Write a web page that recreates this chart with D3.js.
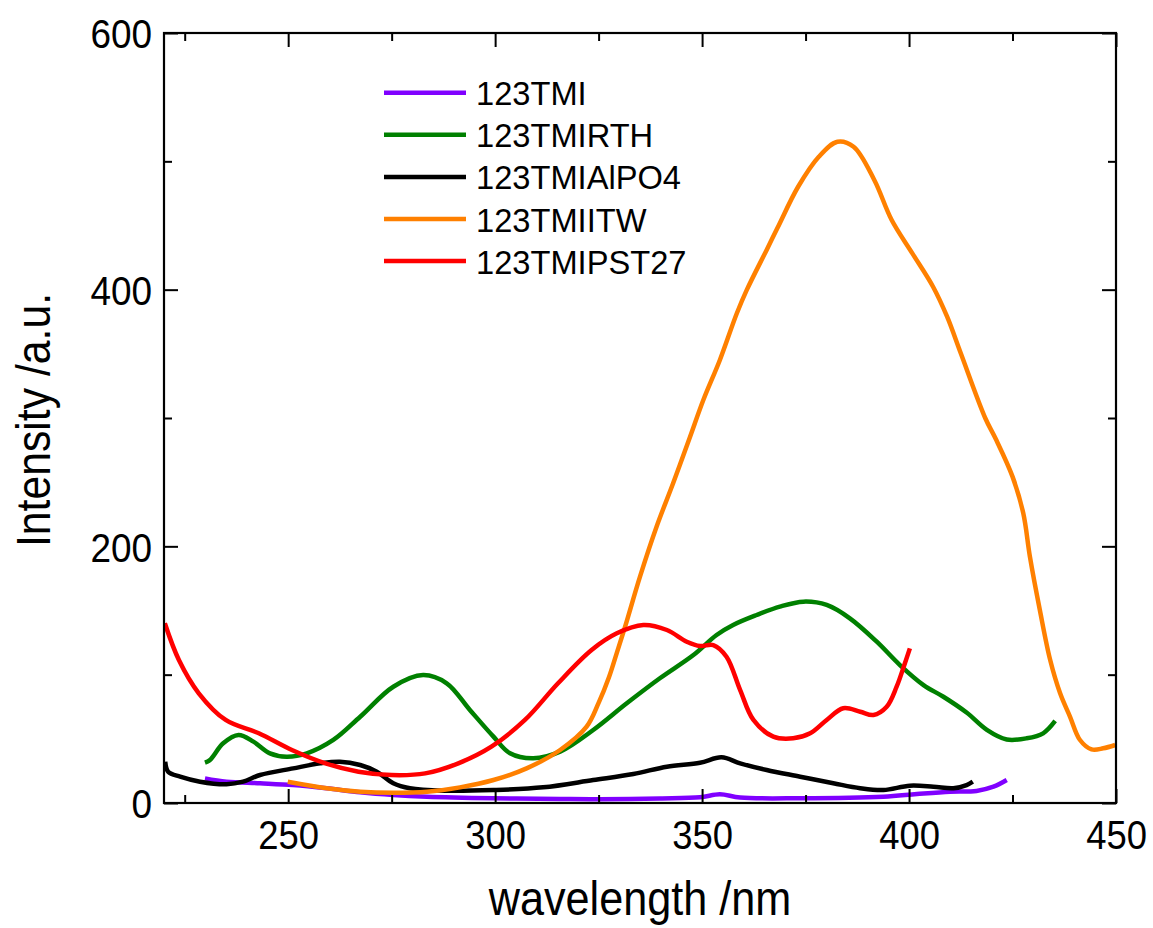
<!DOCTYPE html>
<html>
<head>
<meta charset="utf-8">
<script src="https://cdn.jsdelivr.net/npm/d3@7"></script>
<style>
  html, body { margin: 0; padding: 0; background: #fff; }
  svg { display: block; }
  text { font-family: "Liberation Sans", Arial, Helvetica, sans-serif; fill: #000; }
</style>
</head>
<body>
<svg id="chart" width="1153" height="928"></svg>
<script>
// Emission spectra: [wavelength (nm), intensity (a.u.)]
const seriesNames = ["123TMI", "123TMIRTH", "123TMIAlPO4", "123TMIITW", "123TMIPST27"];
const seriesColors = ["#8000ff", "#008000", "#000000", "#ff8000", "#ff0000"];

const tmi = [[229.9,19.2],[235.1,16.6],[243.2,15.4],[251.2,14],[259.3,11.5],[267.4,8.3],[275.4,6.2],[283.5,4.9],[299.6,3.7],[315.7,3.1],[325.3,2.9],[339.8,3.5],[349.5,4.4],[354.3,6.8],[359.2,4.2],[373.7,3.7],[393.8,4.9],[401.9,7],[409.9,8.8],[416.3,9.4],[420.4,12.7],[423.6,17.9]];

const tmiRTH = [[229.9,31.4],[231.1,33.5],[234.3,46.5],[238,53],[241.6,47.8],[245.6,38.7],[249.6,36.1],[254.5,38.7],[260.9,49.1],[267.4,67.2],[275.4,90.6],[282.6,99.7],[288.3,93.3],[293.9,72.5],[299.6,51.7],[303.6,38.7],[309.2,34.8],[315.7,40],[323.7,56.9],[331.8,77.7],[339.8,97.2],[347.9,115.3],[353.5,130.9],[357.5,138.7],[363.2,146.5],[368.8,153],[374.5,156.9],[380.1,154.3],[385.7,143.9],[392.2,125.7],[397.8,107.5],[403.5,91.9],[408.3,82.8],[413.9,70.5],[418.8,57],[423.6,49.5],[428.4,50.4],[432.4,54.3],[435.3,63.9]];

const tmiAlPO4 = [[220.3,32.2],[221,24.4],[223.9,20.5],[228.7,16.6],[235.1,14.6],[239.1,16.6],[243.2,21.8],[251.2,27],[257.7,30.9],[262.5,32.2],[267.4,29.6],[271.4,24.4],[275.4,15.4],[279.4,11.5],[287.5,9.6],[299.6,10.1],[311.6,12.2],[323.7,17.9],[333.4,22.6],[341.5,28.3],[349.5,31.4],[354.7,35.6],[359.2,30.9],[365.6,25.7],[373.7,20.5],[381.7,15.4],[388.2,11.5],[393.8,10.1],[400.2,13.5],[405.9,12.7],[410.7,11.5],[413.9,14],[415.4,16.6]];

const tmiITW = [[249.9,16.6],[259.3,11.5],[267.4,8.8],[275.4,8],[283.5,8.8],[291.5,12.2],[299.6,17.9],[307.6,27],[315.7,41.3],[322.1,59.5],[325,78],[327.5,98],[329.4,117],[331.4,137.4],[335,176.4],[339,215.3],[343,249.1],[347.1,285.4],[350.3,314],[354.3,345.2],[358.4,381.6],[360.8,399.8],[365.6,431],[368.2,448],[373.2,480.2],[378.2,503.6],[382.7,515.3],[386.6,511.4],[391.6,485.5],[395.8,454.3],[400.8,428.3],[405.8,402.3],[409.2,378.9],[412.5,350.4],[418.4,300],[420.9,284],[425,254.3],[427.6,225.7],[429.2,192],[431.6,150.4],[434.1,111.4],[436.5,85.5],[438.9,67.2],[441.3,49.1],[444.1,41.8],[446.9,42.6],[449.8,45.2]];

const tmiPST27 = [[220.2,140],[223.6,111.4],[228.4,85.5],[234.9,64.7],[242.9,54.3],[250.9,41.3],[259,30.9],[267,24.4],[275,21.8],[283.1,23.1],[291.1,30.9],[299.1,43.9],[307.2,64.7],[315.2,93.3],[323.3,119.2],[329.4,132.2],[335.8,138.7],[341.5,134.8],[346.3,125.7],[349.5,122.3],[352.7,123.1],[355.9,114],[359.2,88],[362.4,64.7],[367.2,51.7],[372,50.4],[376.1,54.3],[380.1,64.7],[384.1,73.8],[388.2,71.1],[391.4,68.6],[394.6,75],[397,90.6],[399,108.9],[400.2,120.5]];

const xMajorTicks = [250, 300, 350, 400, 450];
const xMinorTicks = [225, 275, 325, 375, 425];
const yMajorTicks = [0, 200, 400, 600];
const yMinorTicks = [100, 300, 500];

const allSeries = [tmi, tmiRTH, tmiAlPO4, tmiITW, tmiPST27];

const svg = d3.select("#chart");
const plotLeft = 164, plotRight = 1116, plotTop = 33, plotBottom = 803;

const x = d3.scaleLinear().domain([220, 450]).range([plotLeft, plotRight]);
const y = d3.scaleLinear().domain([0, 600]).range([plotBottom, plotTop]);

// narrow the Arial-like glyphs a little
function condense(sel, k) {
  sel.each(function () {
    const w = this.getComputedTextLength();
    d3.select(this).attr("textLength", w * k).attr("lengthAdjust", "spacingAndGlyphs");
  });
}

// curves, clipped to the frame
svg.append("clipPath").attr("id", "plotClip")
  .append("rect").attr("x", plotLeft).attr("y", plotTop)
  .attr("width", plotRight - plotLeft).attr("height", plotBottom - plotTop);

const line = d3.line()
  .x(d => x(d[0])).y(d => y(d[1]))
  .curve(d3.curveCatmullRom.alpha(0.5));

svg.append("g").attr("clip-path", "url(#plotClip)")
  .selectAll("path").data(allSeries).join("path")
  .attr("d", line)
  .attr("fill", "none")
  .attr("stroke", (d, i) => seriesColors[i])
  .attr("stroke-width", 4.5)
  .attr("stroke-linejoin", "round")
  .attr("stroke-linecap", "butt");

// axes with inward ticks on all four sides
function styleAxis(g) {
  g.select(".domain").remove();
  g.selectAll(".tick line").attr("stroke", "#000").attr("stroke-width", 2);
}

const gxB = svg.append("g").attr("transform", `translate(0,${plotBottom})`)
  .call(d3.axisBottom(x).tickValues(xMajorTicks).tickSizeInner(-14).tickSizeOuter(0).tickPadding(18))
  .call(styleAxis);
gxB.selectAll("text").attr("font-size", 40).style("font-family", '"Liberation Sans", Arial, sans-serif').call(condense, 0.91);

svg.append("g").attr("transform", `translate(0,${plotBottom})`)
  .call(d3.axisBottom(x).tickValues(xMinorTicks).tickSizeInner(-8).tickSizeOuter(0).tickFormat(""))
  .call(styleAxis);
svg.append("g").attr("transform", `translate(0,${plotTop})`)
  .call(d3.axisTop(x).tickValues(xMajorTicks).tickSizeInner(-14).tickSizeOuter(0).tickFormat(""))
  .call(styleAxis);
svg.append("g").attr("transform", `translate(0,${plotTop})`)
  .call(d3.axisTop(x).tickValues(xMinorTicks).tickSizeInner(-8).tickSizeOuter(0).tickFormat(""))
  .call(styleAxis);

const gyL = svg.append("g").attr("transform", `translate(${plotLeft},0)`)
  .call(d3.axisLeft(y).tickValues(yMajorTicks).tickSizeInner(-14).tickSizeOuter(0).tickPadding(12))
  .call(styleAxis);
gyL.selectAll("text").attr("font-size", 41).attr("dy", "0.36em").style("font-family", '"Liberation Sans", Arial, sans-serif').call(condense, 0.9);

svg.append("g").attr("transform", `translate(${plotLeft},0)`)
  .call(d3.axisLeft(y).tickValues(yMinorTicks).tickSizeInner(-8).tickSizeOuter(0).tickFormat(""))
  .call(styleAxis);
svg.append("g").attr("transform", `translate(${plotRight},0)`)
  .call(d3.axisRight(y).tickValues(yMajorTicks).tickSizeInner(-14).tickSizeOuter(0).tickFormat(""))
  .call(styleAxis);
svg.append("g").attr("transform", `translate(${plotRight},0)`)
  .call(d3.axisRight(y).tickValues(yMinorTicks).tickSizeInner(-8).tickSizeOuter(0).tickFormat(""))
  .call(styleAxis);

// frame
svg.append("rect")
  .attr("x", plotLeft).attr("y", plotTop)
  .attr("width", plotRight - plotLeft).attr("height", plotBottom - plotTop)
  .attr("fill", "none").attr("stroke", "#000").attr("stroke-width", 2.2);

// axis titles
svg.append("text")
  .attr("x", (plotLeft + plotRight) / 2).attr("y", 915)
  .attr("text-anchor", "middle").attr("font-size", 48)
  .text("wavelength /nm").call(condense, 0.9);

svg.append("text")
  .attr("transform", "translate(50,420) rotate(-90)")
  .attr("text-anchor", "middle").attr("font-size", 48)
  .text("Intensity /a.u.").call(condense, 0.89);

// legend
const legend = svg.append("g").attr("transform", "translate(384,92.7)");
const rows = legend.selectAll("g").data(seriesNames).join("g")
  .attr("transform", (d, i) => `translate(0,${i * 42.1})`);
rows.append("line")
  .attr("x1", 0).attr("x2", 82).attr("y1", 0).attr("y2", 0)
  .attr("stroke", (d, i) => seriesColors[i]).attr("stroke-width", 4.5);
rows.append("text")
  .attr("x", 92).attr("y", 12.5)
  .attr("font-size", 34)
  .text(d => d).call(condense, 0.96);
</script>
</body>
</html>
